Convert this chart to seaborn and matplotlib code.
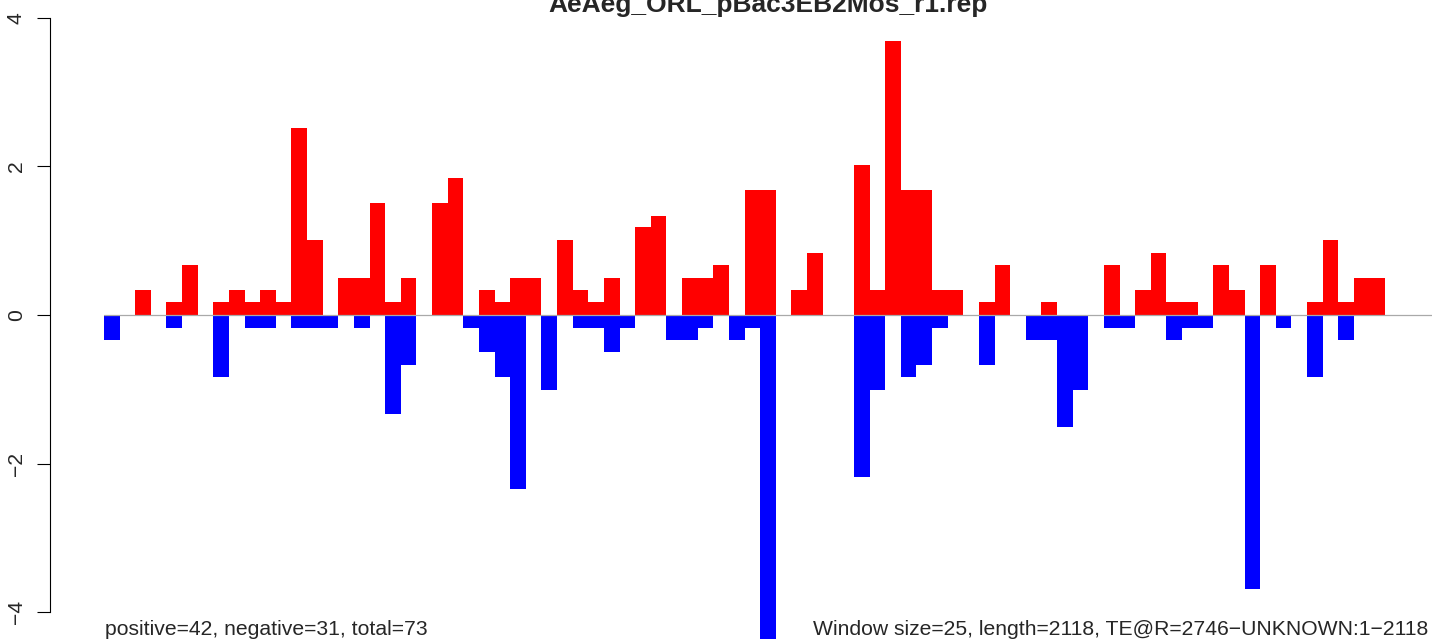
import numpy as np
import pandas as pd
import matplotlib
matplotlib.use("Agg")
import matplotlib.pyplot as plt
import seaborn as sns

# per-window scores (85 windows of 25 bp)
pos_vals = [0, 0, 0.34, 0, 0.17, 0.67, 0, 0.17, 0.34, 0.17,
            0.34, 0.17, 2.52, 1.01, 0, 0.5, 0.5, 1.51, 0.17, 0.5,
            0, 1.51, 1.85, 0, 0.34, 0.17, 0.5, 0.5, 0, 1.01,
            0.34, 0.17, 0.5, 0, 1.18, 1.34, 0, 0.5, 0.5, 0.67,
            0, 1.68, 1.68, 0, 0.34, 0.84, 0, 0, 2.02, 0.34,
            3.69, 1.68, 1.68, 0.34, 0.34, 0, 0.17, 0.67, 0, 0,
            0.17, 0, 0, 0, 0.67, 0, 0.34, 0.84, 0.17, 0.17,
            0, 0.67, 0.34, 0, 0.67, 0, 0, 0.17, 1.01, 0.17,
            0.5, 0.5, 0, 0, 0]
neg_vals = [-0.34, 0, 0, 0, -0.17, 0, 0, -0.84, 0, -0.17,
            -0.17, 0, -0.17, -0.17, -0.17, 0, -0.17, 0, -1.34, -0.67,
            0, 0, 0, -0.17, -0.5, -0.84, -2.35, 0, -1.01, 0,
            -0.17, -0.17, -0.5, -0.17, 0, 0, -0.34, -0.34, -0.17, 0,
            -0.34, -0.17, -4.54, 0, 0, 0, 0, 0, -2.18, -1.01,
            0, -0.84, -0.67, -0.17, 0, 0, -0.67, 0, 0, -0.34,
            -0.34, -1.51, -1.01, 0, -0.17, -0.17, 0, 0, -0.34, -0.17,
            -0.17, 0, 0, -3.69, 0, -0.17, 0, -0.84, 0, -0.34,
            0, 0, 0, 0, 0]
windows = list(range(len(pos_vals)))

title = "AeAeg_ORL_pBac3EB2Mos_r1.rep"
left_note = "positive=42, negative=31, total=73"
right_note = "Window size=25, length=2118, TE@R=2746\u2212UNKNOWN:1\u22122118"
yticks = [-4, -2, 0, 2, 4]

sns.set_style("white")
plt.rcParams['font.family'] = ['Liberation Sans', 'DejaVu Sans']

W, H = 1444, 639
fig = plt.figure(figsize=(W / 100, H / 100), dpi=100)
ax = fig.add_axes([104 / W, 0, (1432 - 104) / W, 1])

df = pd.DataFrame({"window": windows, "pos": pos_vals, "neg": neg_vals})
sns.barplot(data=df, x="window", y="pos", color="red", width=1,
            saturation=1, linewidth=0, errorbar=None, ax=ax)
sns.barplot(data=df, x="window", y="neg", color="blue", width=1,
            saturation=1, linewidth=0, errorbar=None, ax=ax)
for p in ax.patches:
    p.set_antialiased(False)

ax.axhline(0, color="#a9a9a9", lw=0.9, zorder=5)

ax.set_xlim(-0.5, len(windows) - 0.5)
ax.set_ylim(-4 - 27 / 74.25, 4 + 18 / 74.25)
ax.set_xticks([])
ax.set_xlabel("")
ax.set_ylabel("")
for s in ["top", "right", "bottom"]:
    ax.spines[s].set_visible(False)
ax.spines["left"].set_position(("outward", 54 * 0.72))
ax.spines["left"].set_bounds(-4, 4)
ax.spines["left"].set_color("black")
ax.spines["left"].set_linewidth(0.8)
ax.set_yticks(yticks)
ax.set_yticklabels([str(t).replace("-", "\u2212") for t in yticks])
ax.tick_params(axis="y", left=True, length=9.4, width=0.8, color="black",
               pad=8, labelsize=15.2, labelrotation=90)
for lab in ax.get_yticklabels():
    lab.set_va("center")

fig.text(768 / W, 1 - 12 / H, title, ha="center", va="baseline",
         fontsize=19, fontweight="bold")
fig.text(105 / W, 4 / H, left_note, ha="left", va="baseline", fontsize=15.2)
fig.text(1428 / W, 4 / H, right_note, ha="right", va="baseline", fontsize=15.2)

fig.savefig("out.png", dpi=100)
